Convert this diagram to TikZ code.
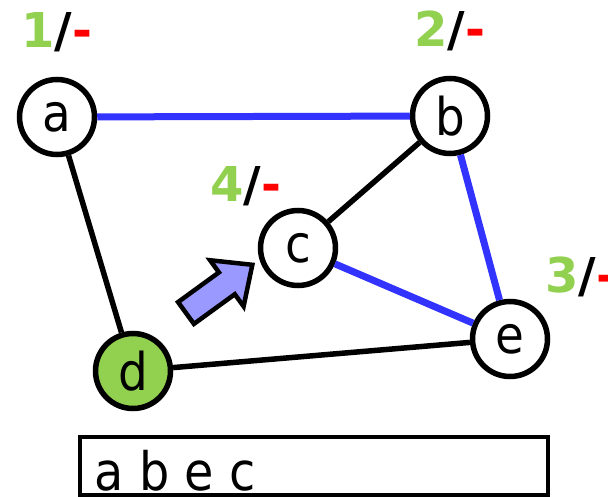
\documentclass[tikz,border=0pt]{standalone}
\usepackage{fontspec}
\setmainfont{DejaVu Sans}
\newfontfamily\condfont{DejaVu Sans Condensed}
\definecolor{vgreen}{RGB}{146,208,80}
\definecolor{vred}{RGB}{255,0,0}
\definecolor{eblue}{RGB}{51,51,255}
\definecolor{pblue}{RGB}{153,153,255}
\tikzset{
  vertex/.style={circle, draw, fill=white, line width=5.5pt, minimum size=75pt,
    inner sep=0pt, font=\condfont\fontsize{52}{60}\selectfont},
  vlabel/.style={inner sep=0pt, font=\bfseries\fontsize{48}{56}\selectfont},
  edge/.style={line width=5.5pt},
  tree/.style={line width=7pt, draw=eblue},
  pointer/.style={draw, fill=pblue, line width=4.5pt},
  listbox/.style={draw, line width=4.5pt, minimum width=468pt, minimum height=58pt},
  listtext/.style={inner sep=0pt, font=\condfont\fontsize{53}{60}\selectfont},
}
\newcommand{\vstate}[1]{{\color{vgreen}#1}/{\color{vred}-}}
\begin{document}
\begin{tikzpicture}[x=1pt, y=-1pt]
\useasboundingbox (0,0) rectangle (608,497); % размер как у картинки
% вершины
\node[vertex] (a) at (57,117) {a};
\node[vertex] (b) at (450,116) {b};
\node[vertex] (c) at (298,248) {c};
\node[vertex, fill=vgreen] (d) at (133,371) {d};
\node[vertex] (e) at (510,339) {e};
% рёбра
\draw[tree] (a) -- (b);
\draw[tree] (b) -- (e);
\draw[tree] (c) -- (e);
\draw[edge] (a) -- (d);
\draw[edge] (b) -- (c);
\draw[edge] (d) -- (e);
% метки над вершинами
\node[vlabel, anchor=base] (la) at ([yshift=29pt]a.north) {\vstate{1}};
\node[vlabel, anchor=base] (lb) at ([yshift=29pt]b.north) {\vstate{2}};
\node[vlabel, anchor=base] (lc) at ([xshift=-52pt, yshift=6pt]c.north) {\vstate{4}};
\node[vlabel, anchor=base west] (le) at ([xshift=35pt, yshift=6pt]e.north) {\vstate{3}};
% стрелка-указатель
\begin{scope}[shift={(186,313)}, rotate=36]
  \draw[pointer] (0,-13.5) -- (50.5,-13.5) -- (50.5,-28.5) -- (82,0)
    -- (50.5,28.5) -- (50.5,13.5) -- (0,13.5) -- cycle;
\end{scope}
% порядок обхода
\node[listbox] (lst) at (314,466) {};
\node[listtext, anchor=base west] (seq) at ([xshift=17pt, yshift=7pt]lst.south west) {a b e c};
\end{tikzpicture}
\end{document}
